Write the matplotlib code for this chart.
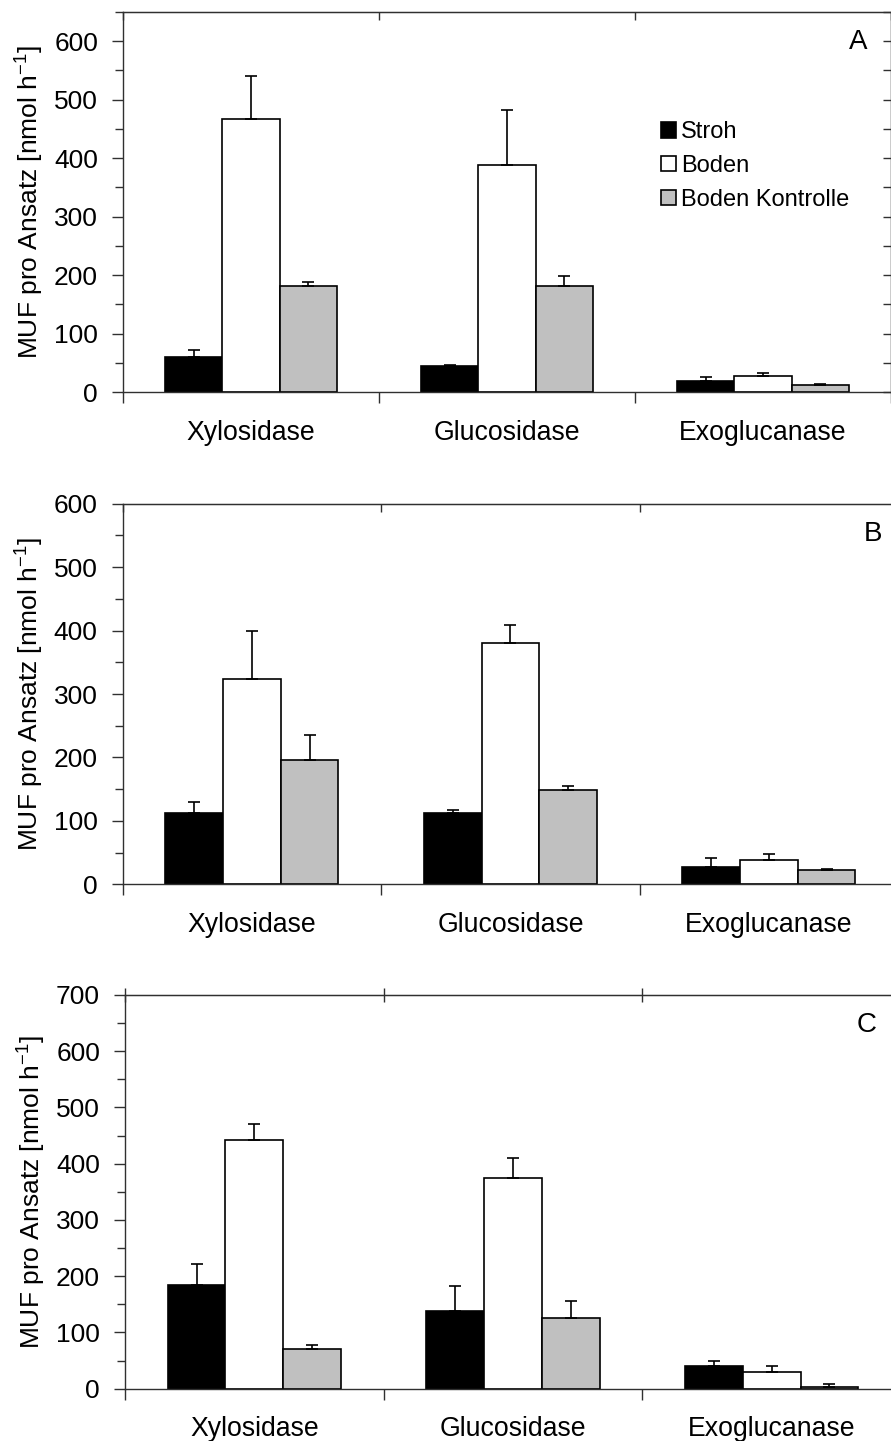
#!/usr/bin/env python
# -*- coding: utf-8 -*-
# Enzyme activity (MUF) per treatment, three panels A, B, C

import matplotlib
matplotlib.use('Agg')
import matplotlib.pyplot as plt
from matplotlib.ticker import MultipleLocator, NullFormatter, FixedLocator

plt.rcParams['font.family'] = ['Liberation Sans', 'DejaVu Sans']
plt.rcParams['mathtext.fontset'] = 'custom'
plt.rcParams['mathtext.rm'] = 'Liberation Sans'

categories = ['Xylosidase', 'Glucosidase', 'Exoglucanase']
series_names = ['Stroh', 'Boden', 'Boden Kontrolle']
series_colors = ['black', 'white', '#c0c0c0']

# Panel A
a_stroh = [60, 44, 18]
a_stroh_err = [11, 3, 8]
a_boden = [467, 389, 28]
a_boden_err = [73, 93, 5]
a_kontrolle = [181, 181, 12]
a_kontrolle_err = [8, 17, 2]

# Panel B
b_stroh = [113, 112, 27]
b_stroh_err = [17, 5, 15]
b_boden = [324, 381, 39]
b_boden_err = [76, 27, 9]
b_kontrolle = [196, 148, 22]
b_kontrolle_err = [39, 7, 2]

# Panel C
c_stroh = [184, 139, 41]
c_stroh_err = [37, 44, 8]
c_boden = [442, 374, 30]
c_boden_err = [28, 37, 10]
c_kontrolle = [71, 126, 3]
c_kontrolle_err = [6, 30, 5]

FIG_W, FIG_H = 891, 1441
SPINE = '#303030'


def px_rect(left, top, right, bottom):
    return [left / FIG_W, 1 - bottom / FIG_H,
            (right - left) / FIG_W, (bottom - top) / FIG_H]


def panel(fig, rect, values, errors, ymax, letter, letter_xy,
          top_dir='in', right_ticks=True):
    ax = fig.add_axes(rect)
    width = 0.223
    xs = range(len(categories))
    for i, (vals, errs) in enumerate(zip(values, errors)):
        pos = [x + (i - 1) * width for x in xs]
        ax.bar(pos, vals, width=width, color=series_colors[i],
               edgecolor='black', linewidth=1.2, label=series_names[i],
               zorder=2)
        ax.errorbar(pos, vals, yerr=[[0] * len(errs), errs], fmt='none',
                    ecolor='black', elinewidth=1.2, capsize=4,
                    capthick=1.2, zorder=3)

    ax.set_xlim(-0.5, 2.5)
    ax.set_ylim(0, ymax)
    for s in ax.spines.values():
        s.set_color(SPINE)
        s.set_linewidth(1.0)

    ax.set_xticks(list(xs))
    ax.set_xticklabels(categories, fontsize=19.2)
    ax.xaxis.set_minor_locator(FixedLocator([-0.5, 0.5, 1.5, 2.5]))
    ax.tick_params(axis='x', which='major', length=0, pad=20)
    ax.tick_params(axis='x', which='minor', direction='out', length=8,
                   width=1.0, color=SPINE)

    ax.yaxis.set_major_locator(MultipleLocator(100))
    ax.yaxis.set_minor_locator(MultipleLocator(50))
    ax.tick_params(axis='y', which='major', direction='out', length=8,
                   width=1.0, color=SPINE, labelsize=19, pad=10)
    ax.tick_params(axis='y', which='minor', direction='out', length=6,
                   width=1.0, color=SPINE)
    ax.set_ylabel(r'MUF pro Ansatz [nmol h$^{\mathregular{-1}}$]',
                  fontsize=19, labelpad=6.5)

    top = ax.secondary_xaxis('top')
    top.set_xticks([-0.5, 0.5, 1.5, 2.5])
    top.xaxis.set_major_formatter(NullFormatter())
    top.tick_params(direction=top_dir, length=6 if top_dir == 'in' else 10,
                    width=1.0, color=SPINE)
    top.spines['top'].set_color(SPINE)

    if right_ticks:
        right = ax.secondary_yaxis('right')
        right.yaxis.set_major_locator(MultipleLocator(50))
        right.yaxis.set_major_formatter(NullFormatter())
        right.tick_params(direction='in', length=6, width=1.0, color=SPINE)
        right.spines['right'].set_color(SPINE)

    ax.text(letter_xy[0], letter_xy[1], letter, transform=ax.transAxes,
            fontsize=20, ha='center', va='center')
    return ax


def main():
    fig = plt.figure(figsize=(FIG_W / 100, FIG_H / 100), dpi=100)

    ax_a = panel(fig, px_rect(123, 12, 891, 392),
                 [a_stroh, a_boden, a_kontrolle],
                 [a_stroh_err, a_boden_err, a_kontrolle_err],
                 650, 'A', (0.957, 0.92))
    ax_a.legend(loc='upper left', bbox_to_anchor=(661 / FIG_W, 1 - 121 / FIG_H),
                bbox_transform=fig.transFigure, frameon=False, fontsize=17,
                handlelength=0.64, handleheight=0.64, handletextpad=0.2,
                labelspacing=0.5, borderpad=0, borderaxespad=0)

    panel(fig, px_rect(122.7, 503.7, 898.2, 884.3),
          [b_stroh, b_boden, b_kontrolle],
          [b_stroh_err, b_boden_err, b_kontrolle_err],
          600, 'B', (0.968, 0.92), right_ticks=False)

    panel(fig, px_rect(125, 995, 901, 1388.7),
          [c_stroh, c_boden, c_kontrolle],
          [c_stroh_err, c_boden_err, c_kontrolle_err],
          700, 'C', (0.956, 0.924), top_dir='inout', right_ticks=False)

    fig.savefig('out.png', dpi=100)


if __name__ == '__main__':
    main()
